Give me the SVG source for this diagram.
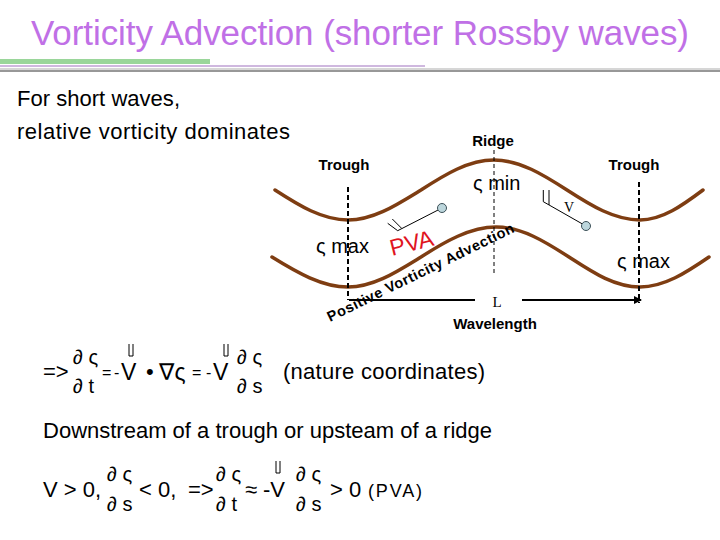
<svg xmlns="http://www.w3.org/2000/svg" width="720" height="540" viewBox="0 0 720 540">
<defs>
<style>
.t{font-family:"Liberation Sans","DejaVu Sans",sans-serif;fill:#000}
.lbl{font-family:"Liberation Sans","DejaVu Sans",sans-serif;font-weight:bold;font-size:15px;fill:#000}
.wave{fill:none;stroke:#7e3d12;stroke-width:3.5;stroke-linecap:round}
.dash{fill:none;stroke:#000;stroke-width:2;stroke-dasharray:5 3}
.thin{fill:none;stroke:#000;stroke-width:1}
.stn{fill:#bcd6dc;stroke:#3c5058;stroke-width:1}
.eq{font-family:"Liberation Sans","DejaVu Sans",sans-serif;font-size:22px;fill:#000}
.op{font-family:"Liberation Sans","DejaVu Sans",sans-serif;font-size:16px;fill:#000}
.eqs{font-family:"Liberation Sans","DejaVu Sans",sans-serif;font-size:20px;fill:#000}
.serif{font-family:"Liberation Serif",serif;fill:#000}
</style>
<marker id="ah" markerWidth="8" markerHeight="8" refX="7" refY="4" orient="auto" markerUnits="userSpaceOnUse">
<path d="M0,0 L8,4 L0,8 Z" fill="#000"/>
</marker>
</defs>
<rect width="720" height="540" fill="#fff"/>

<g id="title">
<text x="360" y="45" text-anchor="middle" textLength="658" style="font-family:'Liberation Sans',sans-serif;font-size:35px;fill:#c070e6">Vorticity Advection (shorter Rossby waves)</text>
<rect x="0" y="59" width="210" height="5" fill="#9ad69a"/>
<rect x="0" y="65" width="425" height="2" fill="#cfb8df"/>
<rect x="0" y="68" width="720" height="2" fill="#d6d6d6"/>
<rect x="0" y="70" width="720" height="2" fill="#989898"/>
</g>

<g id="intro">
<text class="t" x="17" y="106" font-size="22" textLength="163">For short waves,</text>
<text class="t" x="17" y="139" font-size="22" textLength="273">relative vorticity dominates</text>
</g>

<g id="waves">
<path id="upper-wave" class="wave" d="M275 190 C298.8 205.4 322.3 220 348 220 C373.7 220 397.2 204.6 421 190 C444.8 174.6 468.3 160 494 160 C519.7 160 543.2 174.6 567 190 C590.8 205.4 614.3 220 640 220 C662.2 220 682.5 205.4 703 190"/>
<path id="lower-wave" class="wave" d="M272 257 C296.8 272.4 322.3 287 348 287 C373.7 287 397.2 271.6 421 257 C444.8 241.6 470.3 227 496 227 C521.7 227 545.2 241.6 569 257 C592.8 272.4 614.3 287 640 287 C664.3 287 686.5 272.4 709 257"/>
</g>

<g id="connectors">
<line class="dash" x1="348" y1="187" x2="348" y2="300"/>
<line class="thin" x1="494" y1="150" x2="494" y2="276" stroke-dasharray="4 3"/>
<line class="dash" x1="639" y1="182" x2="639" y2="303"/>
<line x1="349" y1="300" x2="475" y2="300" stroke="#000" stroke-width="2"/>
<line x1="522" y1="300" x2="641" y2="300" stroke="#000" stroke-width="2" marker-end="url(#ah)"/>
</g>

<g id="barb-left">
<line class="thin" x1="442" y1="208" x2="397.7" y2="230.7"/>
<line class="thin" x1="397.7" y1="230.7" x2="387.7" y2="223.3"/>
<line class="thin" x1="401.7" y1="228.4" x2="392.3" y2="219"/>
<circle class="stn" cx="442" cy="208" r="4.5"/>
</g>

<g id="barb-right">
<line class="thin" x1="586" y1="226" x2="543.3" y2="201.7"/>
<line class="thin" x1="543.3" y1="201.7" x2="543.3" y2="190"/>
<line class="thin" x1="549" y1="205" x2="549" y2="190"/>
<circle class="stn" cx="586" cy="226" r="4.5"/>
<text class="serif" x="569" y="212" font-size="14" text-anchor="middle">V</text>
</g>

<g id="labels">
<text class="lbl" x="493" y="146" text-anchor="middle">Ridge</text>
<text class="lbl" x="344" y="170" text-anchor="middle">Trough</text>
<text class="lbl" x="634" y="170" text-anchor="middle">Trough</text>
<text class="t" x="473" y="190" font-size="20">ς min</text>
<text class="t" x="316" y="253" font-size="20">ς max</text>
<text class="t" x="617" y="268" font-size="20">ς max</text>
<text x="392" y="256" transform="rotate(-14 392 256)" style="font-family:'Liberation Sans',sans-serif;font-size:23px;fill:#e0141e">PVA</text>
<text class="lbl" x="330" y="322" transform="rotate(-26 330 322)" style="font-size:14.5px" textLength="206">Positive Vorticity Advection</text>
<text class="serif" x="497" y="307" font-size="15" text-anchor="middle">L</text>
<text class="lbl" x="495" y="329" text-anchor="middle">Wavelength</text>
</g>

<g id="equation-1">
<text class="eq" x="43" y="379">=&gt;</text>
<text class="eqs" x="73" y="364">∂ ς</text>
<text class="eqs" x="73" y="393">∂ t</text>
<text class="op" x="102" y="378">=</text>
<text class="op" x="114" y="378">-</text>
<text class="eq" x="121" y="380" style="font-size:23px">V</text>
<path class="thin" d="M129 344 V356 H133 V344"/>
<text class="eq" x="146" y="379">•</text>
<text class="eq" x="159" y="380" style="font-size:23px">∇ς</text>
<text class="op" x="192" y="378">=</text>
<text class="op" x="206" y="378">-</text>
<text class="eq" x="213" y="380" style="font-size:23px">V</text>
<path class="thin" d="M224 344 V356 H228 V344"/>
<text class="eqs" x="237" y="364">∂ ς</text>
<text class="eqs" x="237" y="393">∂ s</text>
<text class="eq" x="283" y="379" textLength="202">(nature coordinates)</text>
</g>

<g id="statement">
<text class="eq" x="43" y="438" textLength="449">Downstream of a trough or upsteam of a ridge</text>
</g>

<g id="equation-2">
<text class="eq" x="43" y="497">V &gt; 0,</text>
<text class="eqs" x="107" y="481">∂ ς</text>
<text class="eqs" x="107" y="511">∂ s</text>
<text class="eq" x="139" y="497">&lt; 0,</text>
<text class="eq" x="188" y="497">=&gt;</text>
<text class="eqs" x="216" y="481">∂ ς</text>
<text class="eqs" x="216" y="511">∂ t</text>
<text class="eq" x="245" y="497">≈</text>
<text class="eq" x="263" y="497">-V</text>
<path class="thin" d="M276 461 V473 H280 V461"/>
<text class="eqs" x="296" y="481">∂ ς</text>
<text class="eqs" x="296" y="511">∂ s</text>
<text class="eq" x="330" y="497">&gt; 0</text>
<text class="eq" x="368" y="497" style="font-size:18px" textLength="54">(PVA)</text>
</g>
</svg>
